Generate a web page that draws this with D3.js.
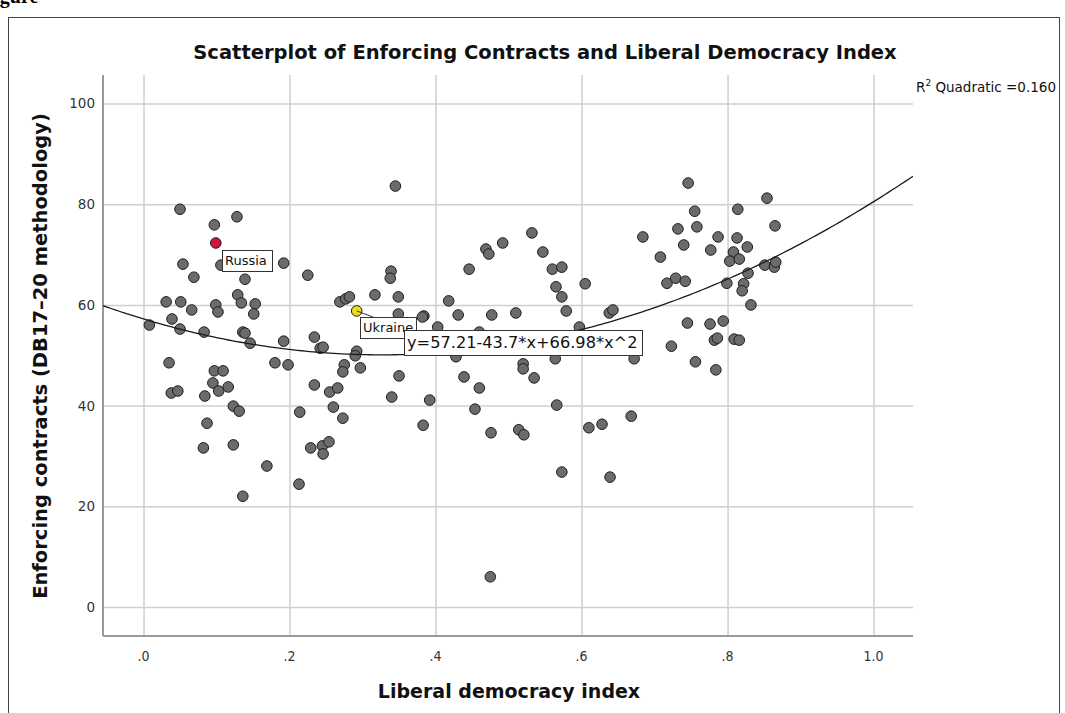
<!DOCTYPE html>
<html>
<head>
<meta charset="utf-8">
<script src="https://cdn.jsdelivr.net/npm/d3@7/dist/d3.min.js"></script>
<style>
  body { margin: 0; background: #fff; }
  svg { display: block; }
</style>
</head>
<body>
<div id="chart"></div>
<script>
// liberal democracy index (x) and enforcing contracts score (y)
var lib_dem = [0.050,0.097,0.128,0.054,0.106,0.192,0.069,0.139,0.225,0.345,0.339,0.338,0.129,0.134,0.031,
  0.051,0.066,0.099,0.102,0.153,0.151,0.269,0.277,0.282,0.317,0.349,0.008,0.039,0.050,0.083,
  0.136,0.139,0.146,0.192,0.234,0.242,0.246,0.292,0.290,0.035,0.097,0.109,0.180,0.198,0.275,
  0.273,0.297,0.350,0.095,0.103,0.116,0.038,0.047,0.084,0.234,0.255,0.266,0.340,0.123,0.131,
  0.214,0.260,0.273,0.087,0.082,0.123,0.229,0.245,0.254,0.246,0.169,0.213,0.136,
  0.349,0.384,0.382,0.403,0.418,0.431,0.446,0.469,0.473,0.492,0.532,0.547,0.560,0.573,0.565,
  0.573,0.579,0.605,0.477,0.510,0.460,0.597,0.638,0.643,0.428,0.439,0.520,0.520,0.535,0.564,
  0.723,0.672,0.392,0.460,0.454,0.566,0.383,0.476,0.514,0.521,0.610,0.628,0.668,0.573,0.639,0.475,
  0.746,0.854,0.755,0.814,0.732,0.758,0.865,0.684,0.787,0.813,0.740,0.777,0.827,0.708,0.808,
  0.803,0.816,0.851,0.864,0.866,0.828,0.717,0.729,0.742,0.799,0.822,0.820,0.832,0.745,0.776,
  0.794,0.782,0.786,0.809,0.816,0.756,0.784];
var contracts = [79.0,75.9,77.5,68.1,67.9,68.3,65.5,65.1,65.9,83.6,66.7,65.3,62.0,60.4,60.6,
  60.6,59.0,60.0,58.6,60.2,58.2,60.6,61.2,61.6,62.0,61.6,56.0,57.2,55.2,54.6,
  54.6,54.4,52.4,52.8,53.6,51.4,51.6,50.8,49.9,48.5,46.9,46.9,48.5,48.1,48.1,
  46.7,47.5,45.9,44.5,42.9,43.7,42.5,42.9,41.9,44.1,42.7,43.5,41.7,39.9,38.9,
  38.7,39.7,37.5,36.5,31.6,32.2,31.6,32.0,32.8,30.4,28.0,24.4,22.0,
  58.2,57.8,57.6,55.6,60.8,58.0,67.1,71.1,70.1,72.3,74.3,70.5,67.1,67.5,63.6,
  61.6,58.8,64.2,58.0,58.4,54.6,55.6,58.4,59.0,49.7,45.7,48.3,47.3,45.5,49.3,
  51.8,49.3,41.1,43.5,39.3,40.1,36.1,34.6,35.2,34.2,35.6,36.3,37.9,26.8,25.8,6.0,
  84.2,81.2,78.6,79.0,75.1,75.5,75.7,73.5,73.5,73.3,71.9,70.9,71.5,69.5,70.5,
  68.7,69.1,67.9,67.5,68.5,66.3,64.3,65.3,64.7,64.3,64.2,62.8,60.0,56.4,56.2,
  56.8,53.0,53.4,53.2,53.0,48.7,47.1];
// highlighted countries
var hi_names = ["Russia","Ukraine"];
var hi_x = [0.099,0.292];
var hi_y = [72.3,58.8];
var hi_colors = ["#d1123b","#e9dd1c"];
// quadratic fit y = b0 + b1*x + b2*x^2
var fit_coef = [57.21,-43.7,66.98];
var x_ticks = [0,0.2,0.4,0.6,0.8,1.0];
var y_ticks = [0,20,40,60,80,100];

var W = 1065, H = 713;
var pLeft = 103, pRight = 913, pTop = 75, pBottom = 636;

var svg = d3.select("#chart").append("svg")
    .attr("width",W)
    .attr("height",H);

var x = d3.scaleLinear().domain([-0.0555,1.054]).range([pLeft,pRight]);
var y = d3.scaleLinear().domain([-5.76,105.66]).range([pBottom,pTop]);

// cut off heading above the frame
svg.append("text")
    .text("Figure")
    .attr("x",-18)
    .attr("y",3)
    .attr("font-family","Liberation Serif")
    .attr("font-weight","bold")
    .attr("font-size","20px");

// outer frame
svg.append("rect")
    .attr("x",8.5).attr("y",17.5)
    .attr("width",1051).attr("height",720)
    .attr("fill","none")
    .attr("stroke","#444")
    .attr("stroke-width",1);

svg.append("defs").append("clipPath").attr("id","plotclip")
    .append("rect").attr("x",pLeft).attr("y",pTop)
    .attr("width",pRight-pLeft).attr("height",pBottom-pTop);

// grid lines
svg.append("g")
    .attr("transform","translate(0,"+pBottom+")")
    .call(d3.axisBottom(x).tickValues(x_ticks).tickSize(-(pBottom-pTop)).tickFormat(""))
    .call(function(g){
        g.select(".domain").remove();
        g.selectAll("line").attr("stroke","#cfcfcf").attr("stroke-width",1.5);
    });
svg.append("g")
    .attr("transform","translate("+pLeft+",0)")
    .call(d3.axisLeft(y).tickValues(y_ticks).tickSize(-(pRight-pLeft)).tickFormat(""))
    .call(function(g){
        g.select(".domain").remove();
        g.selectAll("line").attr("stroke","#cfcfcf").attr("stroke-width",1.5);
    });

// axis lines
svg.append("line")
    .attr("x1",pLeft).attr("x2",pLeft).attr("y1",pTop).attr("y2",pBottom)
    .attr("stroke","#9a9a9a").attr("stroke-width",2);
svg.append("line")
    .attr("x1",pLeft).attr("x2",pRight).attr("y1",pBottom).attr("y2",pBottom)
    .attr("stroke","#9a9a9a").attr("stroke-width",2);

// tick labels
svg.selectAll(".ytick")
    .data(y_ticks)
    .enter()
    .append("text")
    .attr("class","ytick")
    .text(function(d){return d;})
    .attr("x",95)
    .attr("y",function(d){return y(d)+5;})
    .attr("text-anchor","end")
    .attr("font-family","DejaVu Sans")
    .attr("font-size","13.5px")
    .attr("fill","#333");
svg.selectAll(".xtick")
    .data(x_ticks)
    .enter()
    .append("text")
    .attr("class","xtick")
    .text(function(d){return d>=1 ? d.toFixed(1) : d3.format(".1f")(d).replace(/^0/,"");})
    .attr("x",function(d){return x(d);})
    .attr("y",661)
    .attr("text-anchor","middle")
    .attr("font-family","DejaVu Sans Condensed")
    .attr("font-size","14px")
    .attr("fill","#333");

// points
var pts = lib_dem.map(function(d,i){return [d,contracts[i]];});
svg.append("g").selectAll("circle")
    .data(pts)
    .enter()
    .append("circle")
    .attr("cx",function(d){return x(d[0]);})
    .attr("cy",function(d){return y(d[1]);})
    .attr("r",5.3)
    .attr("fill","#6b6b6b")
    .attr("stroke","#1e1e1e")
    .attr("stroke-width",1);

svg.append("g").selectAll("circle")
    .data(hi_names)
    .enter()
    .append("circle")
    .attr("cx",function(d,i){return x(hi_x[i]);})
    .attr("cy",function(d,i){return y(hi_y[i]);})
    .attr("r",5.3)
    .attr("fill",function(d,i){return hi_colors[i];})
    .attr("stroke","#1e1e1e")
    .attr("stroke-width",1);

// fitted curve
var xs = d3.range(0,201).map(function(i){return -0.0555+i*(1.054+0.0555)/200;});
var line = d3.line()
    .x(function(d){return x(d);})
    .y(function(d){return y(fit_coef[0]+fit_coef[1]*d+fit_coef[2]*d*d);});
svg.append("path")
    .datum(xs)
    .attr("clip-path","url(#plotclip)")
    .attr("d",line)
    .attr("fill","none")
    .attr("stroke","#1a1a1a")
    .attr("stroke-width",1.3);

// point labels
function label_box(txt,bx,by,bw,bh,fs){
    svg.append("rect")
        .attr("x",bx+0.5).attr("y",by+0.5)
        .attr("width",bw).attr("height",bh)
        .attr("fill","#fff")
        .attr("stroke","#333")
        .attr("stroke-width",1);
    svg.append("text")
        .text(txt)
        .attr("x",bx+3)
        .attr("y",by+bh/2+fs*0.36)
        .attr("font-family","DejaVu Sans")
        .attr("font-size",fs+"px")
        .attr("fill","#111");
}
svg.append("line")
    .attr("x1",x(hi_x[1])).attr("y1",y(hi_y[1]))
    .attr("x2",373).attr("y2",317)
    .attr("stroke","#333").attr("stroke-width",1);
label_box("Russia",222,250,50,21,13);
label_box("Ukraine",360,317,56,21,13);
label_box("y=57.21-43.7*x+66.98*x^2",404,330,238,25,16.2);

// titles
svg.append("text")
    .text("Scatterplot of Enforcing Contracts and Liberal Democracy Index")
    .attr("x",545)
    .attr("y",59)
    .attr("text-anchor","middle")
    .attr("font-family","DejaVu Sans")
    .attr("font-weight","bold")
    .attr("font-size","19.5px")
    .attr("fill","#111");
svg.append("text")
    .text("Liberal democracy index")
    .attr("x",509)
    .attr("y",698)
    .attr("text-anchor","middle")
    .attr("font-family","DejaVu Sans")
    .attr("font-weight","bold")
    .attr("font-size","19px")
    .attr("fill","#111");
svg.append("text")
    .text("Enforcing contracts (DB17\u201320 methodology)")
    .attr("transform","translate(47,356) rotate(-90)")
    .attr("text-anchor","middle")
    .attr("font-family","DejaVu Sans")
    .attr("font-weight","bold")
    .attr("font-size","19.5px")
    .attr("fill","#111");

var r2 = svg.append("text")
    .attr("x",916)
    .attr("y",92)
    .attr("font-family","DejaVu Sans")
    .attr("font-size","13.5px")
    .attr("fill","#111");
r2.append("tspan").text("R");
r2.append("tspan").text("2").attr("dy",-6).attr("font-size","9px");
r2.append("tspan").text(" Quadratic =0.160").attr("dy",6);
</script>
</body>
</html>
